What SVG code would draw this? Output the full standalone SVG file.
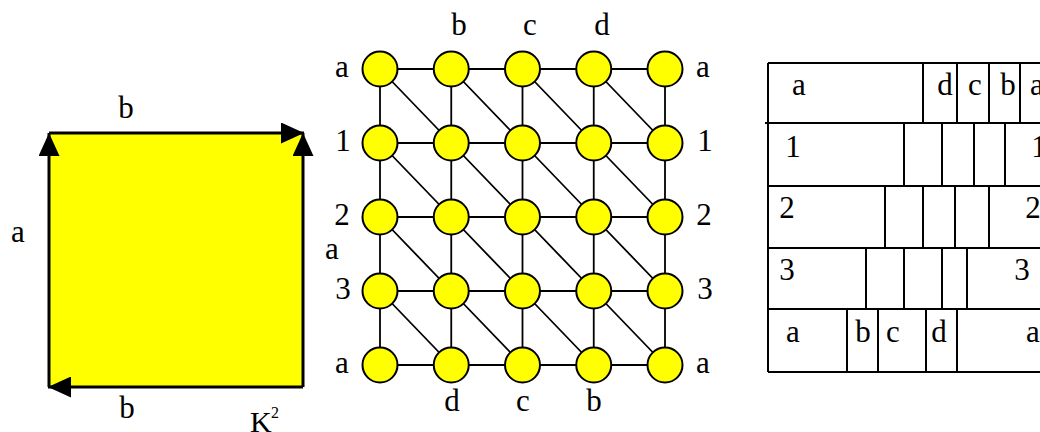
<svg xmlns="http://www.w3.org/2000/svg" width="1040" height="432" viewBox="0 0 1040 432">
<style>
.t{font-family:"Liberation Serif","Times New Roman",serif;font-size:31px;fill:#000;text-anchor:middle}
.e{stroke:#000;stroke-width:1.8;fill:none}
.n{fill:#ffff00;stroke:#000;stroke-width:2}
.sq{stroke:#000;stroke-width:3;fill:none}
.tb{stroke:#000;stroke-width:2;fill:none}
</style>
<defs>
<marker id="ah" markerUnits="userSpaceOnUse" markerWidth="23" markerHeight="21" refX="23" refY="10.5" orient="auto">
<path d="M0,0 L23,10.5 L0,21 Z" fill="#000"/>
</marker>
</defs>
<rect x="49" y="133" width="254" height="254" fill="#ffff00"/>
<g id="square-edges">
<line class="sq" x1="49" y1="387" x2="49" y2="133" marker-end="url(#ah)"/>
<line class="sq" x1="49" y1="133" x2="304" y2="133" marker-end="url(#ah)"/>
<line class="sq" x1="303" y1="387" x2="303" y2="133" marker-end="url(#ah)"/>
<line class="sq" x1="303" y1="387" x2="48" y2="387" marker-end="url(#ah)"/>
</g>
<g id="square-labels">
<text class="t" x="126" y="118">b</text>
<text class="t" x="18" y="242">a</text>
<text class="t" x="127" y="418">b</text>
<text x="250" y="432" style="font-family:'Liberation Serif',serif;font-size:30px">K</text>
<text x="271" y="418" style="font-family:'Liberation Serif',serif;font-size:16px">2</text>
</g>
<g id="connectors">
<path class="e" d="M380,69H665M380,143H665M380,217H665M380,291H665M380,365H665"/>
<path class="e" d="M380,69V365M451.25,69V365M522.5,69V365M593.75,69V365M665,69V365"/>
<path class="e" d="M380,69L451.25,143M451.25,69L522.5,143M522.5,69L593.75,143M593.75,69L665,143
M380,143L451.25,217M451.25,143L522.5,217M522.5,143L593.75,217M593.75,143L665,217
M380,217L451.25,291M451.25,217L522.5,291M522.5,217L593.75,291M593.75,217L665,291
M380,291L451.25,365M451.25,291L522.5,365M522.5,291L593.75,365M593.75,291L665,365"/>
</g>
<g id="nodes">
<g id="r1"><circle class="n" cx="380" cy="69" r="17.5"/><circle class="n" cx="451.25" cy="69" r="17.5"/><circle class="n" cx="522.5" cy="69" r="17.5"/><circle class="n" cx="593.75" cy="69" r="17.5"/><circle class="n" cx="665" cy="69" r="17.5"/></g>
<g id="r2"><circle class="n" cx="380" cy="143" r="17.5"/><circle class="n" cx="451.25" cy="143" r="17.5"/><circle class="n" cx="522.5" cy="143" r="17.5"/><circle class="n" cx="593.75" cy="143" r="17.5"/><circle class="n" cx="665" cy="143" r="17.5"/></g>
<g id="r3"><circle class="n" cx="380" cy="217" r="17.5"/><circle class="n" cx="451.25" cy="217" r="17.5"/><circle class="n" cx="522.5" cy="217" r="17.5"/><circle class="n" cx="593.75" cy="217" r="17.5"/><circle class="n" cx="665" cy="217" r="17.5"/></g>
<g id="r4"><circle class="n" cx="380" cy="291" r="17.5"/><circle class="n" cx="451.25" cy="291" r="17.5"/><circle class="n" cx="522.5" cy="291" r="17.5"/><circle class="n" cx="593.75" cy="291" r="17.5"/><circle class="n" cx="665" cy="291" r="17.5"/></g>
<g id="r5"><circle class="n" cx="380" cy="365" r="17.5"/><circle class="n" cx="451.25" cy="365" r="17.5"/><circle class="n" cx="522.5" cy="365" r="17.5"/><circle class="n" cx="593.75" cy="365" r="17.5"/><circle class="n" cx="665" cy="365" r="17.5"/></g>
</g>
<g id="grid-labels">
<text class="t" x="459" y="35">b</text>
<text class="t" x="530" y="35">c</text>
<text class="t" x="602" y="35">d</text>
<text class="t" x="342" y="77">a</text>
<text class="t" x="343" y="151">1</text>
<text class="t" x="342" y="225">2</text>
<text class="t" x="332" y="259">a</text>
<text class="t" x="343" y="299">3</text>
<text class="t" x="342" y="373">a</text>
<text class="t" x="703" y="77">a</text>
<text class="t" x="705" y="151">1</text>
<text class="t" x="704" y="225">2</text>
<text class="t" x="705" y="299">3</text>
<text class="t" x="703" y="373">a</text>
<text class="t" x="452" y="411">d</text>
<text class="t" x="523" y="411">c</text>
<text class="t" x="594" y="411">b</text>
</g>
<g id="table">
<path class="tb" d="M768,63H1040M765,123H1040M768,186H1040M768,248H1040M768,309H1040M768,372H1040M768,63V372"/>
<path class="tb" d="M923,63V123M957,63V123M989,63V123M1020,63V123"/>
<path class="tb" d="M904,123V186M942,123V186M974,123V186M1005,123V186"/>
<path class="tb" d="M885,186V248M923,186V248M955,186V248M989,186V248"/>
<path class="tb" d="M866,248V309M904,248V309M942,248V309M967,248V309"/>
<path class="tb" d="M847,309V372M878,309V372M926,309V372M957,309V372"/>
<text class="t" x="799" y="95">a</text>
<text class="t" x="945" y="95">d</text>
<text class="t" x="975" y="95">c</text>
<text class="t" x="1008" y="95">b</text>
<text class="t" x="1037" y="95">a</text>
<text class="t" x="793" y="157">1</text>
<text class="t" x="1039" y="157">1</text>
<text class="t" x="787" y="218">2</text>
<text class="t" x="1033" y="218">2</text>
<text class="t" x="787" y="280">3</text>
<text class="t" x="1022" y="280">3</text>
<text class="t" x="793" y="342">a</text>
<text class="t" x="863" y="342">b</text>
<text class="t" x="893" y="342">c</text>
<text class="t" x="939" y="342">d</text>
<text class="t" x="1033" y="342">a</text>
</g>
</svg>
